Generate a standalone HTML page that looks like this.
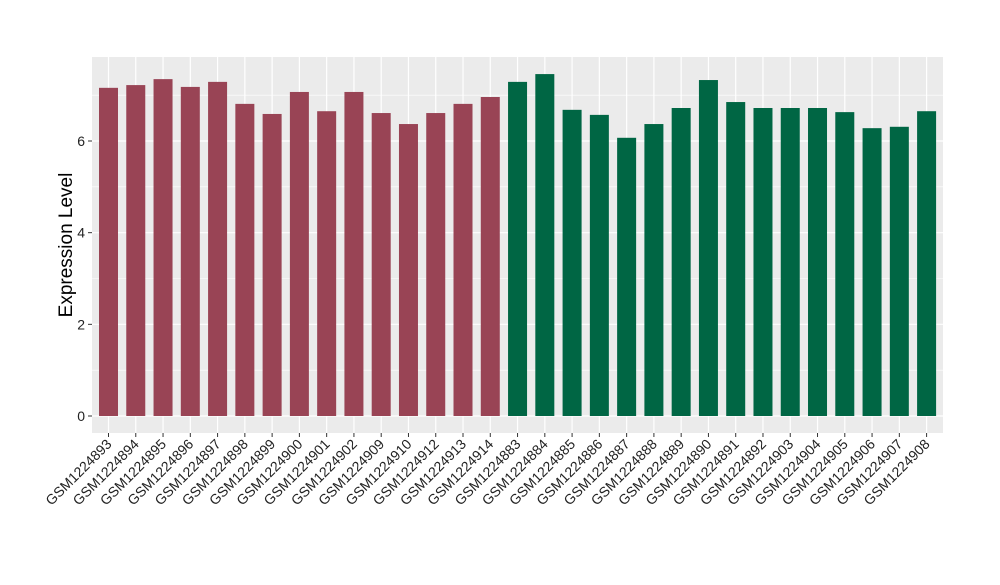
<!DOCTYPE html>
<html><head><meta charset="utf-8"><style>body{margin:0;background:#fff}svg text{font-family:"Liberation Sans",sans-serif}</style></head>
<body>
<svg id="c" width="1000" height="580"></svg>
<script>
const categories=["GSM1224893","GSM1224894","GSM1224895","GSM1224896","GSM1224897","GSM1224898","GSM1224899","GSM1224900","GSM1224901","GSM1224902","GSM1224909","GSM1224910","GSM1224912","GSM1224913","GSM1224914","GSM1224883","GSM1224884","GSM1224885","GSM1224886","GSM1224887","GSM1224888","GSM1224889","GSM1224890","GSM1224891","GSM1224892","GSM1224903","GSM1224904","GSM1224905","GSM1224906","GSM1224907","GSM1224908"];
const values=[7.16,7.22,7.35,7.18,7.29,6.81,6.59,7.07,6.65,7.07,6.61,6.37,6.61,6.81,6.96,7.29,7.46,6.68,6.57,6.07,6.37,6.72,7.33,6.85,6.72,6.72,6.72,6.63,6.28,6.31,6.65];
const groups=[0,0,0,0,0,0,0,0,0,0,0,0,0,0,0,1,1,1,1,1,1,1,1,1,1,1,1,1,1,1,1];
const yTicks=[0,2,4,6];
const colors=["#994455","#006644"];
const NS="http://www.w3.org/2000/svg",svg=document.getElementById('c');
const L=92,R=943,T=57,B=433;
const y=v=>416-v*(275/6);
const x=i=>108.5+i*27.27;
function mk(t,a,p){const e=document.createElementNS(NS,t);for(const k in a)e.setAttribute(k,a[k]);(p||svg).appendChild(e);return e;}
const panel=mk('rect',{x:L,y:T,width:R-L,height:B-T,fill:'#ebebeb'});


for(let v=1;v<=7;v+=2){mk('line',{x1:L,x2:R,y1:y(v),y2:y(v),stroke:'#fff','stroke-width':0.6});}
yTicks.forEach(v=>{
 const g=mk('line',{x1:L,x2:R,y1:y(v),y2:y(v),stroke:'#fff','stroke-width':1.2});
 
 
 mk('line',{x1:L-4,x2:L,y1:y(v),y2:y(v),stroke:'#333'});
 const t=mk('text',{x:L-7,y:y(v)+5,'text-anchor':'end','font-size':14,fill:'#222'});t.textContent=v;
 
 
});
categories.forEach((c,i)=>{mk('line',{x1:x(i),x2:x(i),y1:T,y2:B,stroke:'#fff','stroke-width':1.2});});
categories.forEach((c,i)=>{
 const b=mk('rect',{x:x(i)-9.5,y:y(values[i]),width:19,height:y(0)-y(values[i]),fill:colors[groups[i]]});
 
 
 mk('line',{x1:x(i),x2:x(i),y1:B,y2:B+4,stroke:'#333'});
 const t=mk('text',{x:x(i)+4,y:B+12,'text-anchor':'end','font-size':14,fill:'#222',transform:`rotate(-45 ${x(i)+4} ${B+12})`});t.textContent=c;
 
 
});
const yt=mk('text',{x:72,y:245,'text-anchor':'middle','font-size':19,fill:'#000',transform:'rotate(-90 72 245)'});yt.textContent='Expression Level';


</script>
</body></html>
